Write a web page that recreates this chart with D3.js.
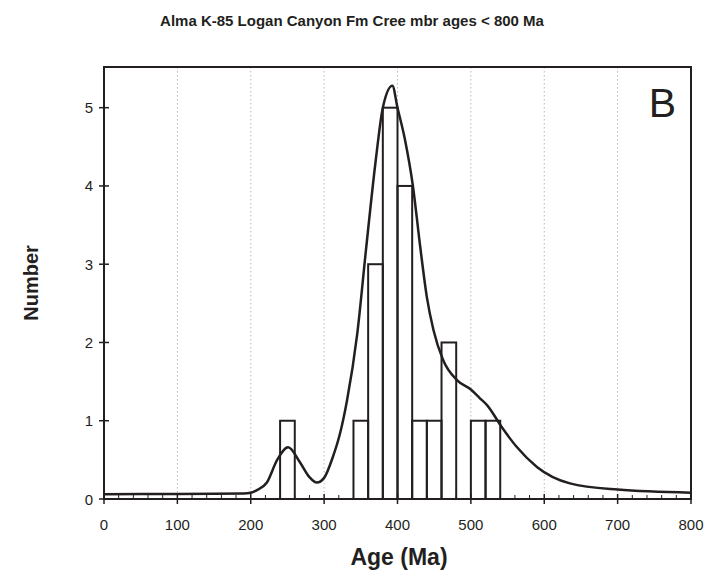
<!DOCTYPE html>
<html>
<head>
<meta charset="utf-8">
<script src="https://cdn.jsdelivr.net/npm/d3@7"></script>
<style>
  html, body { margin: 0; padding: 0; background: #fff; }
  svg { display: block; font-family: "Liberation Sans", Arial, sans-serif; }
</style>
</head>
<body>
<svg id="chart" width="705" height="573"></svg>
<script>
// Histogram bins (20 Ma wide): left edge of each bin and its count
const binStart = [240, 340, 360, 380, 400, 420, 440, 460, 500, 520];
const binCount = [1, 1, 3, 5, 4, 1, 1, 2, 1, 1];
const binWidth = 20;

// Probability density curve, sampled along the age axis
const curveAge = [0, 100, 190, 200, 208, 222, 236, 251, 267, 280, 290, 300, 312, 322, 331, 345, 357, 370, 380, 393, 400, 410, 421, 431, 440, 449, 462, 481, 500, 512, 522, 542, 562, 590, 635, 700, 800];
const curveVal = [0.06, 0.065, 0.07, 0.08, 0.11, 0.21, 0.5, 0.66, 0.47, 0.28, 0.21, 0.27, 0.54, 0.85, 1.25, 2.1, 3.18, 4.3, 5.0, 5.28, 5.0, 4.6, 4.0, 3.22, 2.58, 2.16, 1.78, 1.52, 1.4, 1.29, 1.2, 0.92, 0.67, 0.41, 0.2, 0.12, 0.08];

const xTicks = [0, 100, 200, 300, 400, 500, 600, 700, 800];
const yTicks = [0, 1, 2, 3, 4, 5];

const ink = "#231f20";
const svg = d3.select("#chart");
const m = { left: 104, top: 67, right: 691, bottom: 499 };

const x = d3.scaleLinear().domain([0, 800]).range([m.left, m.right]);
const y = d3.scaleLinear().domain([0, 5.52]).range([m.bottom, m.top]);

// Title
svg.append("text")
  .attr("x", 352).attr("y", 26)
  .attr("text-anchor", "middle")
  .attr("font-size", 15).attr("font-weight", "bold").attr("fill", ink)
  .text("Alma K-85 Logan Canyon Fm Cree mbr ages < 800 Ma");

// Dotted vertical gridlines
svg.append("g").selectAll("line")
  .data(xTicks.filter(d => d > 0 && d < 800))
  .join("line")
  .attr("x1", d => x(d)).attr("x2", d => x(d))
  .attr("y1", m.top).attr("y2", m.bottom)
  .attr("stroke", "#b8b8b8").attr("stroke-width", 1)
  .attr("stroke-dasharray", "1.5,2.5");

// Histogram bars (outlines)
svg.append("g").selectAll("rect")
  .data(binStart.map((s, i) => ({ s, c: binCount[i] })))
  .join("rect")
  .attr("x", d => x(d.s))
  .attr("width", d => x(d.s + binWidth) - x(d.s))
  .attr("y", d => y(d.c))
  .attr("height", d => y(0) - y(d.c))
  .attr("fill", "none").attr("stroke", ink).attr("stroke-width", 2);

// Density curve
const line = d3.line()
  .x(d => x(d[0])).y(d => y(d[1]))
  .curve(d3.curveMonotoneX);
svg.append("path")
  .datum(curveAge.map((a, i) => [a, curveVal[i]]))
  .attr("d", line)
  .attr("fill", "none").attr("stroke", ink).attr("stroke-width", 2.5);

// Frame
svg.append("rect")
  .attr("x", m.left).attr("y", m.top)
  .attr("width", m.right - m.left).attr("height", m.bottom - m.top)
  .attr("fill", "none").attr("stroke", ink).attr("stroke-width", 2);

// X axis: minor ticks every 20 Ma (inside), major ticks crossing the axis
const xAxis = svg.append("g");
xAxis.selectAll("line.minor")
  .data(d3.range(0, 801, 20).filter(d => d % 100 !== 0))
  .join("line").attr("class", "minor")
  .attr("x1", d => x(d)).attr("x2", d => x(d))
  .attr("y1", m.bottom).attr("y2", m.bottom - 4)
  .attr("stroke", ink).attr("stroke-width", 1);
xAxis.selectAll("line.major")
  .data(xTicks)
  .join("line").attr("class", "major")
  .attr("x1", d => x(d)).attr("x2", d => x(d))
  .attr("y1", m.bottom - 5).attr("y2", m.bottom + 5)
  .attr("stroke", ink).attr("stroke-width", 1.5);
xAxis.selectAll("text")
  .data(xTicks)
  .join("text")
  .attr("x", d => x(d)).attr("y", 530)
  .attr("text-anchor", "middle")
  .attr("font-size", 15).attr("fill", ink)
  .text(d => d);

// Y axis ticks and labels
const yAxis = svg.append("g");
yAxis.selectAll("line")
  .data(yTicks)
  .join("line")
  .attr("x1", m.left - 5).attr("x2", m.left + 5)
  .attr("y1", d => y(d)).attr("y2", d => y(d))
  .attr("stroke", ink).attr("stroke-width", 1.5);
yAxis.selectAll("text")
  .data(yTicks)
  .join("text")
  .attr("x", 93).attr("y", d => y(d) + 5.5)
  .attr("text-anchor", "end")
  .attr("font-size", 15).attr("fill", ink)
  .text(d => d);

// Axis titles
svg.append("text")
  .attr("x", 399).attr("y", 565)
  .attr("text-anchor", "middle")
  .attr("font-size", 23).attr("font-weight", "bold").attr("fill", ink)
  .text("Age (Ma)");
svg.append("text")
  .attr("transform", "translate(38,283) rotate(-90)")
  .attr("text-anchor", "middle")
  .attr("font-size", 20).attr("font-weight", "bold").attr("fill", ink)
  .text("Number");

// Panel letter
svg.append("text")
  .attr("x", 676).attr("y", 117)
  .attr("text-anchor", "end")
  .attr("font-size", 41).attr("fill", ink)
  .text("B");
</script>
</body>
</html>
